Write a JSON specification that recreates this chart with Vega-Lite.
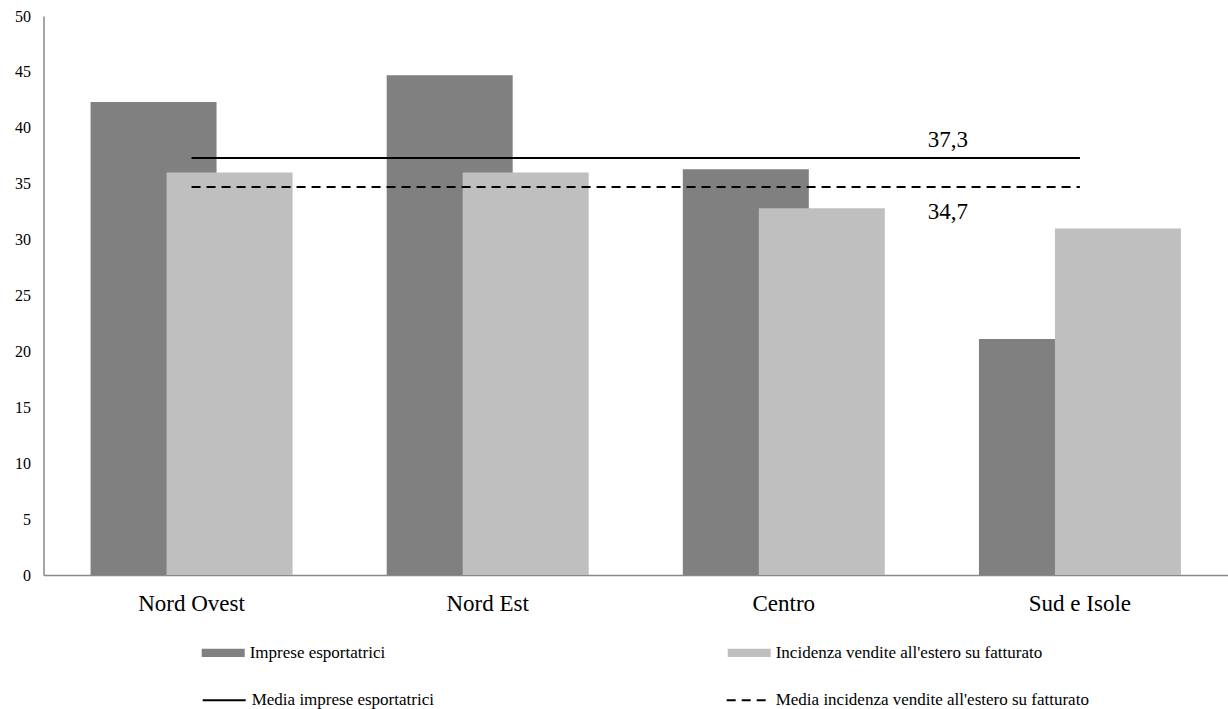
{
  "$schema": "https://vega.github.io/schema/vega-lite/v6.json",
  "autosize": {"type": "none"},
  "padding": {"left": 43.5, "top": 16, "right": 0, "bottom": 134},
  "width": 1184.5,
  "height": 559,
  "background": "white",
  "config": {
    "view": {"stroke": null},
    "font": "Liberation Serif"
  },
  "datasets": {
    "barre": [
      {"regione": "Nord Ovest", "serie": "Imprese esportatrici", "valore": 42.3},
      {"regione": "Nord Est", "serie": "Imprese esportatrici", "valore": 44.7},
      {"regione": "Centro", "serie": "Imprese esportatrici", "valore": 36.3},
      {"regione": "Sud e Isole", "serie": "Imprese esportatrici", "valore": 21.1},
      {"regione": "Nord Ovest", "serie": "Incidenza vendite all'estero su fatturato", "valore": 36.0},
      {"regione": "Nord Est", "serie": "Incidenza vendite all'estero su fatturato", "valore": 36.0},
      {"regione": "Centro", "serie": "Incidenza vendite all'estero su fatturato", "valore": 32.8},
      {"regione": "Sud e Isole", "serie": "Incidenza vendite all'estero su fatturato", "valore": 31.0}
    ],
    "medie": [
      {"serie": "Media imprese esportatrici", "valore": 37.3, "etichetta": "37,3", "da": "Nord Ovest", "a": "Sud e Isole"},
      {"serie": "Media incidenza vendite all'estero su fatturato", "valore": 34.7, "etichetta": "34,7", "da": "Nord Ovest", "a": "Sud e Isole"}
    ]
  },
  "encoding": {
    "y": {
      "field": "valore", "type": "quantitative",
      "scale": {"domain": [0, 50], "nice": false},
      "axis": {
        "title": null, "values": [0, 5, 10, 15, 20, 25, 30, 35, 40, 45, 50],
        "grid": false, "ticks": false, "domainColor": "#898989", "domainWidth": 1.5,
        "labelFont": "Liberation Serif", "labelFontSize": 16, "labelColor": "black", "labelPadding": 13
      }
    }
  },
  "layer": [
    {
      "data": {"name": "barre"},
      "transform": [{"filter": "datum.serie == 'Imprese esportatrici'"}],
      "mark": {"type": "bar", "width": 126, "xOffset": -38},
      "encoding": {
        "x": {
          "field": "regione", "type": "nominal",
          "scale": {"domain": ["Nord Ovest", "Nord Est", "Centro", "Sud e Isole"], "paddingInner": 0, "paddingOuter": 0},
          "axis": {
            "title": null, "labelAngle": 0, "ticks": false, "grid": false,
            "domainColor": "#898989", "domainWidth": 1.5,
            "labelFont": "Liberation Serif", "labelFontSize": 23, "labelColor": "black", "labelPadding": 17
          }
        },
        "color": {
          "field": "serie", "type": "nominal",
          "scale": {
            "domain": ["Imprese esportatrici", "Incidenza vendite all'estero su fatturato"],
            "range": ["#808080", "#bfbfbf"]
          },
          "legend": {
            "title": null, "orient": "none", "legendX": 158.2, "legendY": 615.2,
            "direction": "horizontal", "padding": 0,
            "symbolType": "M-1,-0.19H1V0.19H-1Z", "symbolSize": 1849, "symbolStrokeWidth": 0, "symbolOpacity": 1,
            "labelFont": "Liberation Serif", "labelFontSize": 17, "labelColor": "black",
            "labelOffset": 5, "columnPadding": 342, "labelLimit": 400
          }
        }
      }
    },
    {
      "data": {"name": "barre"},
      "transform": [{"filter": "datum.serie != 'Imprese esportatrici'"}],
      "mark": {"type": "bar", "width": 126, "xOffset": 38},
      "encoding": {
        "x": {"field": "regione", "type": "nominal"},
        "color": {"field": "serie", "type": "nominal"}
      }
    },
    {
      "data": {"name": "medie"},
      "mark": {"type": "rule", "strokeWidth": 2, "color": "#000000"},
      "encoding": {
        "x": {"field": "da", "type": "nominal"},
        "x2": {"field": "a"},
        "strokeDash": {
          "field": "serie", "type": "nominal",
          "scale": {"domain": ["Media imprese esportatrici", "Media incidenza vendite all'estero su fatturato"], "range": [[1, 0], [9, 6]]},
          "legend": {
            "title": null, "orient": "none", "legendX": 158.2, "legendY": 661.5,
            "direction": "horizontal", "padding": 0,
            "symbolType": "stroke", "symbolSize": 1849, "symbolStrokeWidth": 2, "symbolStrokeColor": "#000000", "symbolOpacity": 1,
            "labelFont": "Liberation Serif", "labelFontSize": 17, "labelColor": "black",
            "labelOffset": 5, "columnPadding": 288, "labelLimit": 400
          }
        }
      }
    },
    {
      "data": {"name": "medie"},
      "transform": [{"filter": "datum.valore > 36"}],
      "mark": {"type": "text", "dx": -132, "dy": -11, "baseline": "alphabetic", "fontSize": 23, "font": "Liberation Serif", "color": "black"},
      "encoding": {
        "x": {"field": "a", "type": "nominal"},
        "text": {"field": "etichetta"}
      }
    },
    {
      "data": {"name": "medie"},
      "transform": [{"filter": "datum.valore < 36"}],
      "mark": {"type": "text", "dx": -132, "dy": 32, "baseline": "alphabetic", "fontSize": 23, "font": "Liberation Serif", "color": "black"},
      "encoding": {
        "x": {"field": "a", "type": "nominal"},
        "text": {"field": "etichetta"}
      }
    }
  ]
}
